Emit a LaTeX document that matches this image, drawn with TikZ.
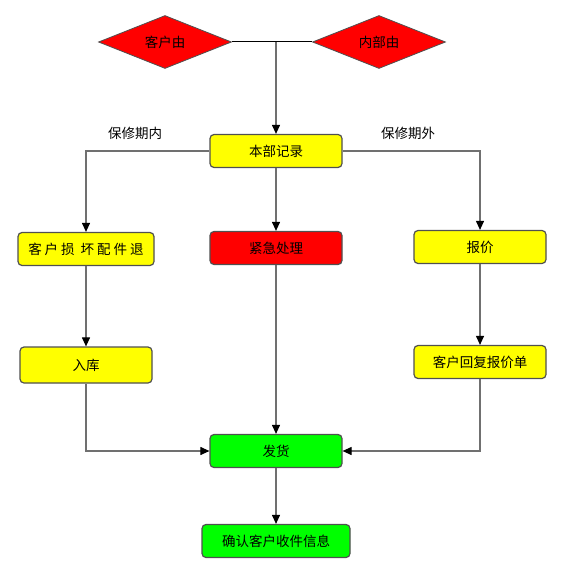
\documentclass[tikz,border=0pt]{standalone}
\usepackage{fontspec}
\newfontfamily\cjk{Noto Sans CJK SC}
\usetikzlibrary{shapes.geometric,arrows.meta,positioning}
\definecolor{boxyellow}{HTML}{FFFF00}
\definecolor{boxred}{HTML}{FF0000}
\definecolor{boxgreen}{HTML}{00FF00}
\definecolor{edgegray}{HTML}{505050}
\definecolor{linegray}{HTML}{707070}
\newcommand{\cgap}{\kern3pt}
\tikzset{
procbox/.style={rectangle,rounded corners=4pt,draw=edgegray,line width=1.2pt,
  minimum width=132pt,minimum height=33pt,align=center,inner sep=0pt,
  font=\cjk\fontsize{13.5}{15}\selectfont},
srcdiamond/.style={diamond,draw=edgegray,line width=0.8pt,fill=boxred,
  minimum width=133pt,minimum height=53pt,inner sep=0pt,aspect=2.5,
  font=\cjk\fontsize{13.5}{15}\selectfont},
notelabel/.style={font=\cjk\fontsize{13.5}{15}\selectfont,inner sep=0pt},
flowline/.style={line width=1pt,black},
flowarr/.style={line width=1.1pt,linegray,-{Triangle[length=9pt,width=8pt,color=black]}}
}

\begin{document}
\begin{tikzpicture}[x=1pt,y=-1pt]
\useasboundingbox (0,0) rectangle (563,585);
\node[srcdiamond] (cust) at (165,42) {客户由};
\node[srcdiamond] (inner) at (379,42) {内部由};
\node[procbox,fill=boxyellow] (rec) at (276,151) {本部记录};
\node[procbox,fill=boxyellow,minimum width=136pt] (loss) at (86,249) {客\cgap 户\cgap 损\cgap\cgap 坏\cgap 配\cgap 件\cgap 退};
\node[procbox,fill=boxred] (urgent) at (276,248) {紧急处理};
\node[procbox,fill=boxyellow] (quote) at (480,247) {报价};
\node[procbox,fill=boxyellow,minimum height=36pt] (stock) at (86,365) {入库};
\node[procbox,fill=boxyellow] (reply) at (480,362) {客户回复报价单};
\node[procbox,fill=boxgreen] (ship) at (276,451) {发货};
\node[procbox,fill=boxgreen,minimum width=148pt] (confirm) at (276,541) {确认客户收件信息};
\node[notelabel] (inside) at (135,133) {保修期内};
\node[notelabel] (outside) at (408,133) {保修期外};
% connectors
\draw[flowline] (cust.east) -- (inner.west);
\draw[flowarr] (rec.north |- cust.east) -- (rec.north);
\draw[flowarr] (rec.west) -| (loss.north);
\draw[flowarr] (rec.east) -| (quote.north);
\draw[flowarr] (rec) -- (urgent);
\draw[flowarr] (loss) -- (stock);
\draw[flowarr] (quote) -- (reply);
\draw[flowarr] (urgent) -- (ship);
\draw[flowarr] (stock.south) |- (ship.west);
\draw[flowarr] (reply.south) |- (ship.east);
\draw[flowarr] (ship) -- (confirm);
\end{tikzpicture}
\end{document}
